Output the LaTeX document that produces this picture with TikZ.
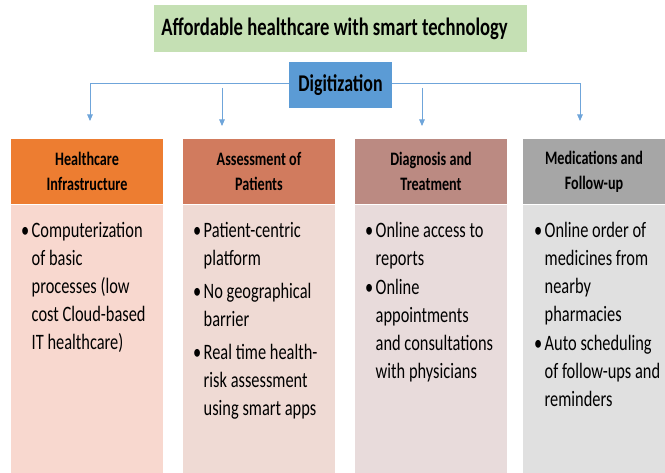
\documentclass[tikz,border=0pt]{standalone}
\usepackage{fontspec}
\setmainfont{Carlito}[FakeStretch=0.745]
\usetikzlibrary{arrows.meta}
\definecolor{titlegreen}{HTML}{C5E0B4}
\definecolor{digiblue}{HTML}{5B9BD5}
\definecolor{arrowblue}{HTML}{6FA5DA}
\definecolor{hdrA}{HTML}{ED7D31}
\definecolor{bodyA}{HTML}{F8D8CF}
\definecolor{hdrB}{HTML}{D17B5E}
\definecolor{bodyB}{HTML}{EFDAD4}
\definecolor{hdrC}{HTML}{BB8A82}
\definecolor{bodyC}{HTML}{E8DBDB}
\definecolor{hdrD}{HTML}{A6A6A6}
\definecolor{bodyD}{HTML}{E0E0E0}
\newcommand{\setsp}{\spaceskip=0.17em plus 0.05em minus 0.03em\xspaceskip=0.2em}
\newcommand{\bitem}[1]{\hangindent=10.5pt\hangafter=1\noindent\makebox[10.5pt][l]{\textbullet}#1\par}
\newcommand{\colsetup}[1]{\setsp\rightskip=0pt plus 1fil\parfillskip=0pt plus 1fil\parindent=0pt\setlength{\parskip}{#1}}
\begin{document}
\begin{tikzpicture}[x=1pt,y=-1pt,
  hdr/.style={inner sep=0pt, outer sep=0pt, anchor=north west, minimum height=65pt, align=center,
    font=\fontsize{19}{25}\selectfont\bfseries\setsp, text=black},
  bodybox/.style={inner sep=0pt, outer sep=0pt, anchor=north west, minimum height=269pt},
  bodytxt/.style={inner sep=0pt, anchor=base west, text width=#1,
    font=\fontsize{22}{28}\selectfont},
  arr/.style={draw=arrowblue, line width=0.9pt, -{Triangle[width=5.5pt,length=6.5pt]}},
]
\path[use as bounding box] (0,0) rectangle (665,473);

% title and digitization
\node[fill=titlegreen, minimum width=373pt, minimum height=47pt, inner sep=0pt,
  font=\fontsize{25}{28}\selectfont\bfseries\setsp] (title) at (340.5,29) {Affordable healthcare with smart technology\hspace*{12pt}};
\node[fill=digiblue, minimum width=103pt, minimum height=46pt, inner sep=0pt,
  font=\fontsize{24}{28}\selectfont\bfseries] (digi) at (340.5,85) {Digitization};

% bodies
\node[bodybox, fill=bodyA, minimum width=152pt] (b1) at (11,204) {};
\node[bodybox, fill=bodyB, minimum width=152pt] (b2) at (183,204) {};
\node[bodybox, fill=bodyC, minimum width=152pt] (b3) at (355,204) {};
\node[bodybox, fill=bodyD, minimum width=142pt] (b4) at (523,204) {};

% headers
\node[hdr, fill=hdrA, minimum width=152pt] (h1) at (11,139) {Healthcare\\Infrastructure};
\node[hdr, fill=hdrB, minimum width=152pt] (h2) at (183,139) {Assessment of\\Patients};
\node[hdr, fill=hdrC, minimum width=152pt] (h3) at (355,139) {Diagnosis and\\Treatment};
\node[hdr, fill=hdrD, minimum width=142pt] (h4) at (523,139) {Medications and\\Follow-up};
\foreach \i in {1,2,3,4} \draw[white, line width=0.6pt] (h\i.south west) -- (h\i.south east);

% body texts
\node[bodytxt=170pt] (t1) at (21,238) {\colsetup{0pt}%
  \bitem{Computerization\newline of basic\newline processes (low\newline cost Cloud-based\newline IT healthcare)}};
\node[bodytxt=170pt] (t2) at (193,238) {\colsetup{5pt}%
  \bitem{Patient-centric\newline platform}%
  \bitem{No geographical\newline barrier}%
  \bitem{Real time health-\newline risk assessment\newline using smart apps}};
\node[bodytxt=170pt] (t3) at (365,238) {\colsetup{1pt}%
  \bitem{Online access to\newline reports}%
  \bitem{Online\newline appointments\newline and consultations\newline with physicians}};
\node[bodytxt=170pt] (t4) at (534,238) {\colsetup{1pt}%
  \bitem{Online order of\newline medicines from\newline nearby\newline pharmacies}%
  \bitem{Auto scheduling\newline of follow-ups and\newline reminders}};

% connectors
\coordinate (j1) at (90,83);
\coordinate (j4) at (580,83);
\coordinate (e1) at (90,121);
\coordinate (e4) at (580,121);
\coordinate (s2) at (222,88);
\coordinate (s3) at (422,88);
\coordinate (e2) at (222,126);
\coordinate (e3) at (422,126);
\draw[arr] (digi.west |- j1) -- (j1) -- (e1);
\draw[arr] (digi.east |- j4) -- (j4) -- (e4);
\draw[arr] (s2) -- (e2);
\draw[arr] (s3) -- (e3);
\end{tikzpicture}
\end{document}
